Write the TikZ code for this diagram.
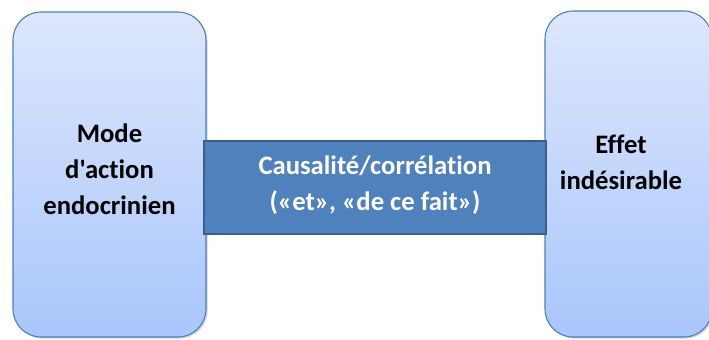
\documentclass[tikz,border=0pt]{standalone}
\usepackage{fontspec}
\newfontfamily\calib{Carlito}[Ligatures={NoCommon}]
\usetikzlibrary{shadows}
\definecolor{boxtop}{HTML}{DDE7FC}
\definecolor{boxbot}{HTML}{A9C6FB}
\definecolor{boxline}{HTML}{4A7EBB}
\definecolor{midfill}{HTML}{4F81BD}
\definecolor{midline}{HTML}{3A5F8C}
\begin{document}
\begin{tikzpicture}[x=0.75pt,y=-0.75pt,
  sidebox/.style={draw=boxline, line width=0.8pt, rounded corners=21pt,
    top color=boxtop, bottom color=boxbot,
    drop shadow={shadow xshift=1.2pt, shadow yshift=-1.2pt, opacity=0.35}},
  midbox/.style={draw=midline, line width=1.6pt, fill=midfill,
    minimum width=256.5pt, minimum height=69.75pt},
  lbl/.style={font=\calib\bfseries\fontsize{20}{27}\selectfont, align=center, inner sep=0pt}]
\useasboundingbox (0,0) rectangle (709,339);
\node[sidebox, minimum width=144.75pt, minimum height=243.75pt] (left) at (109.5,174.5) {};
\node[sidebox, minimum width=125.25pt, minimum height=244.5pt] (right) at (628.5,174) {};
\node[midbox] (mid) at (375,187.5) {};
\node[lbl] (ltxt) at (109.5,169) {Mode\\d'action\\endocrinien};
\node[lbl] (rtxt) at (621,162) {Effet\\indésirable};
\node[lbl, text=white] (mtxt) at (375,185) {Causalité/corrélation\\(«et», «de ce fait»)};
\end{tikzpicture}
\end{document}
